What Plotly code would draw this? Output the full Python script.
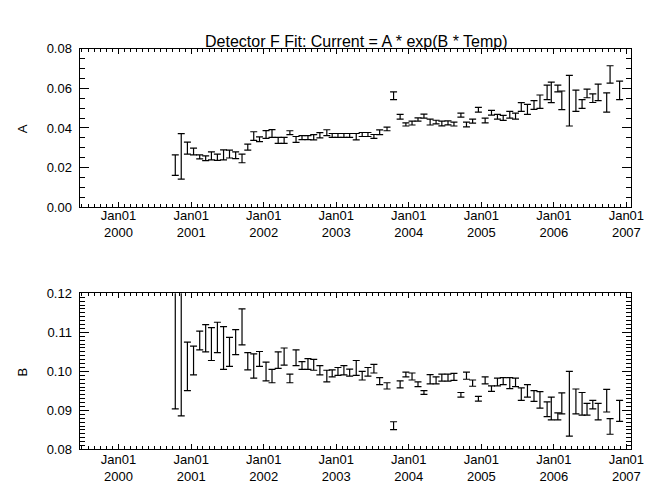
"""
Detector F fit: Current = A * exp(B * Temp), parametros mensuales con barras de error.
"""

import plotly.graph_objects as go

FECHAS = [
    "2000-10-13", "2000-11-12", "2000-12-13", "2001-01-13", "2001-02-13", "2001-03-15",
    "2001-04-13", "2001-05-13", "2001-06-13", "2001-07-13", "2001-08-13", "2001-09-14",
    "2001-10-13", "2001-11-12", "2001-12-11", "2002-01-13", "2002-02-12", "2002-03-15",
    "2002-04-14", "2002-05-13", "2002-06-13", "2002-07-13", "2002-08-12", "2002-09-10",
    "2002-10-11", "2002-11-15", "2002-12-12", "2003-01-10", "2003-02-09", "2003-03-10",
    "2003-04-12", "2003-05-12", "2003-06-10", "2003-07-10", "2003-08-08", "2003-09-14",
    "2003-10-17", "2003-11-19", "2003-12-18", "2004-01-18", "2004-02-17", "2004-03-18",
    "2004-04-18", "2004-05-18", "2004-06-16", "2004-07-17", "2004-08-16", "2004-09-20",
    "2004-10-18", "2004-11-18", "2004-12-17", "2005-01-20", "2005-02-21", "2005-03-23",
    "2005-04-21", "2005-05-24", "2005-06-22", "2005-07-21", "2005-08-21", "2005-09-23",
    "2005-10-23", "2005-11-28", "2005-12-19", "2006-01-21", "2006-02-10", "2006-03-20",
    "2006-04-22", "2006-05-23", "2006-06-17", "2006-07-16", "2006-08-12", "2006-09-24",
    "2006-10-11", "2006-11-28",
]

A = [
    0.0212, 0.0256, 0.0298, 0.0281, 0.0254, 0.0247, 0.0259, 0.0252, 0.0264, 0.0268,
    0.0262, 0.0246, 0.0303, 0.0359, 0.0343, 0.0367, 0.0372, 0.0337, 0.0337, 0.0376,
    0.0342, 0.0351, 0.0351, 0.0353, 0.0363, 0.0376, 0.0362, 0.0362, 0.0362, 0.0362,
    0.0356, 0.0367, 0.0367, 0.0357, 0.0378, 0.0395, 0.0563, 0.0457, 0.0418, 0.0425,
    0.0443, 0.0460, 0.0430, 0.0430, 0.0423, 0.0426, 0.0420, 0.0465, 0.0418, 0.0435,
    0.0492, 0.0438, 0.0477, 0.0457, 0.0451, 0.0467, 0.0460, 0.0506, 0.0494, 0.0516,
    0.0533, 0.0580, 0.0580, 0.0600, 0.0540, 0.0538, 0.0538, 0.0521, 0.0575, 0.0551,
    0.0580, 0.0529, 0.0671, 0.0590,
]
A_ERR = [
    0.0052, 0.0115, 0.0030, 0.0017, 0.0010, 0.0012, 0.0020, 0.0016, 0.0025, 0.0020,
    0.0017, 0.0022, 0.0015, 0.0022, 0.0012, 0.0020, 0.0020, 0.0015, 0.0015, 0.0010,
    0.0015, 0.0010, 0.0010, 0.0013, 0.0013, 0.0015, 0.0010, 0.0010, 0.0010, 0.0010,
    0.0016, 0.0010, 0.0010, 0.0010, 0.0012, 0.0009, 0.0020, 0.0012, 0.0008, 0.0010,
    0.0008, 0.0010, 0.0015, 0.0009, 0.0012, 0.0010, 0.0010, 0.0010, 0.0012, 0.0010,
    0.0012, 0.0012, 0.0012, 0.0012, 0.0013, 0.0017, 0.0015, 0.0022, 0.0025, 0.0022,
    0.0034, 0.0037, 0.0052, 0.0017, 0.0047, 0.0128, 0.0054, 0.0022, 0.0022, 0.0022,
    0.0042, 0.0049, 0.0044, 0.0047,
]

B = [
    0.1070, 0.1070, 0.1013, 0.1028, 0.1079, 0.1085, 0.1070, 0.1087, 0.1060, 0.1050,
    0.1075, 0.1114, 0.1026, 0.1014, 0.1032, 0.1000, 0.0988, 0.1029, 0.1038, 0.0982,
    0.1035, 0.1015, 0.1019, 0.1017, 0.1003, 0.0988, 0.0995, 0.1000, 0.1003, 0.0997,
    0.1009, 0.0989, 0.0999, 0.1007, 0.0975, 0.0963, 0.0861, 0.0967, 0.0992, 0.0987,
    0.0967, 0.0946, 0.0980, 0.0977, 0.0984, 0.0984, 0.0986, 0.0940, 0.0989, 0.0970,
    0.0930, 0.0977, 0.0956, 0.0973, 0.0975, 0.0970, 0.0972, 0.0942, 0.0950, 0.0937,
    0.0927, 0.0903, 0.0905, 0.0885, 0.0918, 0.0917, 0.0923, 0.0917, 0.0903, 0.0915,
    0.0897, 0.0925, 0.0859, 0.0899,
]
B_ERR = [
    0.0166, 0.0184, 0.0062, 0.0037, 0.0024, 0.0035, 0.0042, 0.0039, 0.0055, 0.0037,
    0.0032, 0.0046, 0.0022, 0.0031, 0.0019, 0.0024, 0.0017, 0.0021, 0.0022, 0.0011,
    0.0020, 0.0010, 0.0014, 0.0014, 0.0012, 0.0015, 0.0009, 0.0010, 0.0012, 0.0009,
    0.0019, 0.0011, 0.0011, 0.0011, 0.0009, 0.0008, 0.0010, 0.0009, 0.0006, 0.0009,
    0.0006, 0.0005, 0.0012, 0.0009, 0.0009, 0.0009, 0.0009, 0.0006, 0.0009, 0.0008,
    0.0006, 0.0009, 0.0007, 0.0010, 0.0009, 0.0014, 0.0011, 0.0016, 0.0016, 0.0014,
    0.0021, 0.0019, 0.0029, 0.0009, 0.0027, 0.0083, 0.0032, 0.0029, 0.0015, 0.0011,
    0.0021, 0.0029, 0.0020, 0.0027,
]

ANIOS = [2000, 2001, 2002, 2003, 2004, 2005, 2006, 2007]
TITULO = "Detector F Fit: Current = A * exp(B * Temp)"

FUENTE = dict(family="Liberation Sans", size=13, color="black")
RANGO_X = ["1999-06-19", "2007-01-22"]

fig = go.Figure()

for valores, errores, eje in [(A, A_ERR, "y"), (B, B_ERR, "y2")]:
    fig.add_trace(go.Scatter(
        x=FECHAS,
        y=valores,
        mode="markers",
        # solo barras de error, sin simbolo
        marker=dict(size=1, color="rgba(0,0,0,0)"),
        error_y=dict(type="data", array=errores, color="black", thickness=1.2, width=3.5),
        xaxis="x" if eje == "y" else "x2",
        yaxis=eje,
        showlegend=False,
    ))

eje_x = dict(
    type="date",
    range=RANGO_X,
    tickvals=[f"{a}-01-01" for a in ANIOS],
    ticktext=[f"Jan01<br>{a}" for a in ANIOS],
    ticks="inside",
    ticklen=5,
    tickcolor="black",
    minor=dict(dtick="M1", tick0="2000-01-01", ticks="inside", ticklen=3, tickcolor="black"),
    showline=True,
    linecolor="black",
    linewidth=1,
    mirror="ticks",
    showgrid=False,
    zeroline=False,
    tickfont=FUENTE,
    ticklabelstandoff=-4,
)
eje_y = dict(
    ticks="inside",
    ticklen=9,
    tickcolor="black",
    tickformat=".2f",
    showline=True,
    linecolor="black",
    linewidth=1,
    mirror="ticks",
    showgrid=False,
    zeroline=False,
    tickfont=FUENTE,
    ticklabelstandoff=4,
)

fig.update_layout(
    width=661,
    height=497,
    margin=dict(l=0, r=0, t=0, b=0),
    paper_bgcolor="white",
    plot_bgcolor="white",
    xaxis=dict(eje_x, domain=[0.1104, 0.9607], anchor="y"),
    xaxis2=dict(eje_x, domain=[0.1104, 0.9607], anchor="y2", ticklabelstandoff=-2),
    yaxis=dict(eje_y, domain=[0.6016, 0.9296], range=[0, 0.08], dtick=0.02,
               minor=dict(dtick=0.005, ticks="inside", ticklen=5, tickcolor="black"), anchor="x"),
    yaxis2=dict(eje_y, domain=[0.0986, 0.4225], range=[0.08, 0.12], dtick=0.01,
                minor=dict(dtick=0.001, ticks="inside", ticklen=5, tickcolor="black"), anchor="x2"),
    annotations=[
        dict(text=TITULO, x=0.537, y=1 - 17 / 497, xref="paper", yref="paper",
             showarrow=False, font=dict(family="Liberation Sans", size=16, color="black")),
        dict(text="A", x=15 / 661, y=1 - 117 / 497, xref="paper", yref="paper",
             xanchor="center", yanchor="middle",
             showarrow=False, textangle=-90, font=FUENTE),
        dict(text="B", x=15 / 661, y=1 - 368 / 497, xref="paper", yref="paper",
             xanchor="center", yanchor="middle",
             showarrow=False, textangle=-90, font=FUENTE),
    ],
)

fig.write_html("out.html")
